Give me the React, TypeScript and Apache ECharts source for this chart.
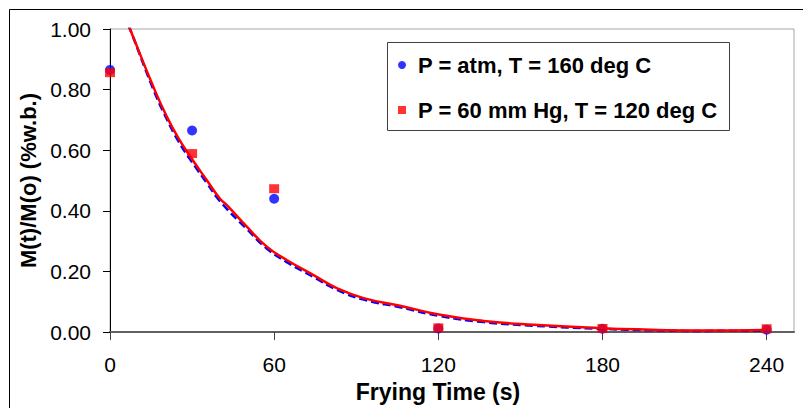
import React, { useEffect, useRef } from "react";
import * as echarts from "echarts";

const xTickValues = [0, 60, 120, 180, 240];
const seriesNames = ["P = atm, T = 160 deg C", "P = 60 mm Hg, T = 120 deg C"];

const atmPoints = [
  [0, 0.865],
  [30, 0.665],
  [60, 0.44],
  [120, 0.012],
  [180, 0.011],
  [240, 0.008],
];
const vacPoints = [
  [0, 0.856],
  [30, 0.589],
  [60, 0.473],
  [120, 0.014],
  [180, 0.012],
  [240, 0.011],
];
const atmFit = [
  [5, 1.05], [7.3, 1.0], [15.8, 0.802], [20.7, 0.704], [25, 0.63], [29.9, 0.562], [35.4, 0.492],
  [40.2, 0.432], [50, 0.34], [57.3, 0.276], [64.6, 0.231], [74.4, 0.182], [82.9, 0.14],
  [92.7, 0.107], [106, 0.082], [120.7, 0.053], [136.6, 0.033], [154.9, 0.021],
  [179.3, 0.011], [197.6, 0.006], [215.9, 0.004], [240, 0.005],
];
const vacFit = [
  [5, 1.05], [7.3, 1.0], [15.8, 0.81], [20.7, 0.712], [25, 0.64], [29.9, 0.572], [35.4, 0.501],
  [40.2, 0.44], [42.7, 0.419], [50, 0.348], [57.3, 0.282], [64.6, 0.238], [74.4, 0.188],
  [82.9, 0.145], [92.7, 0.112], [106, 0.087], [120.7, 0.057], [136.6, 0.037],
  [154.9, 0.024], [179.3, 0.013], [197.6, 0.008], [215.9, 0.005], [240, 0.007],
];

const FONT = "'Liberation Sans', Arial, sans-serif";

export default function App() {
  const ref = useRef<HTMLDivElement>(null);
  useEffect(() => {
    document.body.style.margin = "0";
    const chart = echarts.init(ref.current!, null, { renderer: "svg" });
    chart.setOption({
      animation: false,
      backgroundColor: "#ffffff",
      textStyle: { fontFamily: FONT },
      grid: {
        left: 110,
        top: 29,
        width: 684,
        height: 305,
        show: true,
        borderColor: "#a6a6a6",
        borderWidth: 1,
        backgroundColor: "#ffffff",
      },
      graphic: [
        {
          type: "rect",
          z: -10,
          shape: { x: 9.5, y: 9.5, width: 820, height: 420 },
          style: { fill: "none", stroke: "#000000", lineWidth: 1 },
        },
        {
          type: "rect",
          z: 10,
          shape: { x: 387.5, y: 42.5, width: 342, height: 88 },
          style: { fill: "#ffffff", stroke: "#404040", lineWidth: 1 },
        },
      ],
      legend: {
        z: 20,
        orient: "vertical",
        left: 387,
        top: 43,
        padding: [10, 9, 10, 11],
        itemGap: 21,
        itemWidth: 8,
        itemHeight: 8,
        data: [
          { name: seriesNames[0], icon: "circle" },
          { name: seriesNames[1], icon: "rect" },
        ],
        textStyle: {
          fontFamily: FONT,
          fontSize: 22,
          fontWeight: "bold",
          color: "#000000",
          lineHeight: 24,
          padding: [0, 0, 0, 7],
        },
      },
      xAxis: {
        type: "value",
        min: 0,
        max: 250,
        name: "Frying Time (s)",
        nameLocation: "middle",
        nameGap: 34,
        nameTextStyle: {
          fontFamily: FONT,
          fontSize: 23,
          fontWeight: "bold",
          color: "#000000",
          padding: [0, 28, 0, 0],
        },
        axisLine: { show: true, lineStyle: { color: "#606060", width: 2 } },
        axisTick: {
          show: true,
          length: 8,
          customValues: xTickValues,
          lineStyle: { color: "#404040", width: 1 },
        },
        axisLabel: {
          customValues: xTickValues,
          margin: 22,
          fontFamily: FONT,
          fontSize: 21,
          color: "#000000",
        },
        splitLine: { show: false },
      },
      yAxis: {
        type: "value",
        min: 0,
        max: 1,
        interval: 0.2,
        name: "M(t)/M(o) (%w.b.)",
        nameLocation: "middle",
        nameGap: 70,
        nameTextStyle: {
          fontFamily: FONT,
          fontSize: 22,
          fontWeight: "bold",
          color: "#000000",
        },
        axisLine: { show: true, lineStyle: { color: "#000000", width: 1 } },
        axisTick: { show: true, length: 7, lineStyle: { color: "#000000", width: 1 } },
        axisLabel: {
          margin: 19,
          fontFamily: FONT,
          fontSize: 21,
          color: "#000000",
          formatter: (v: number) => v.toFixed(2),
        },
        splitLine: { show: false },
      },
      series: [
        {
          name: seriesNames[0],
          type: "scatter",
          data: atmPoints,
          symbol: "circle",
          symbolSize: 10,
          itemStyle: { color: "#0000ff" },
          z: 3,
        },
        {
          name: seriesNames[1],
          type: "scatter",
          data: vacPoints,
          symbol: "rect",
          symbolSize: [10, 9],
          itemStyle: { color: "#ff0000" },
          z: 4,
        },
        {
          name: "atm fit",
          type: "line",
          data: atmFit,
          showSymbol: false,
          symbol: "none",
          smooth: 0.5,
          clip: true,
          lineStyle: { color: "#0000ff", width: 2.5, type: [8, 4] },
          z: 5,
        },
        {
          name: "vac fit",
          type: "line",
          data: vacFit,
          showSymbol: false,
          symbol: "none",
          smooth: 0.5,
          clip: true,
          lineStyle: { color: "#ff0000", width: 2.5 },
          z: 6,
        },
      ],
    });
    return () => chart.dispose();
  }, []);
  return <div ref={ref} style={{ width: 803, height: 408 }} />;
}
